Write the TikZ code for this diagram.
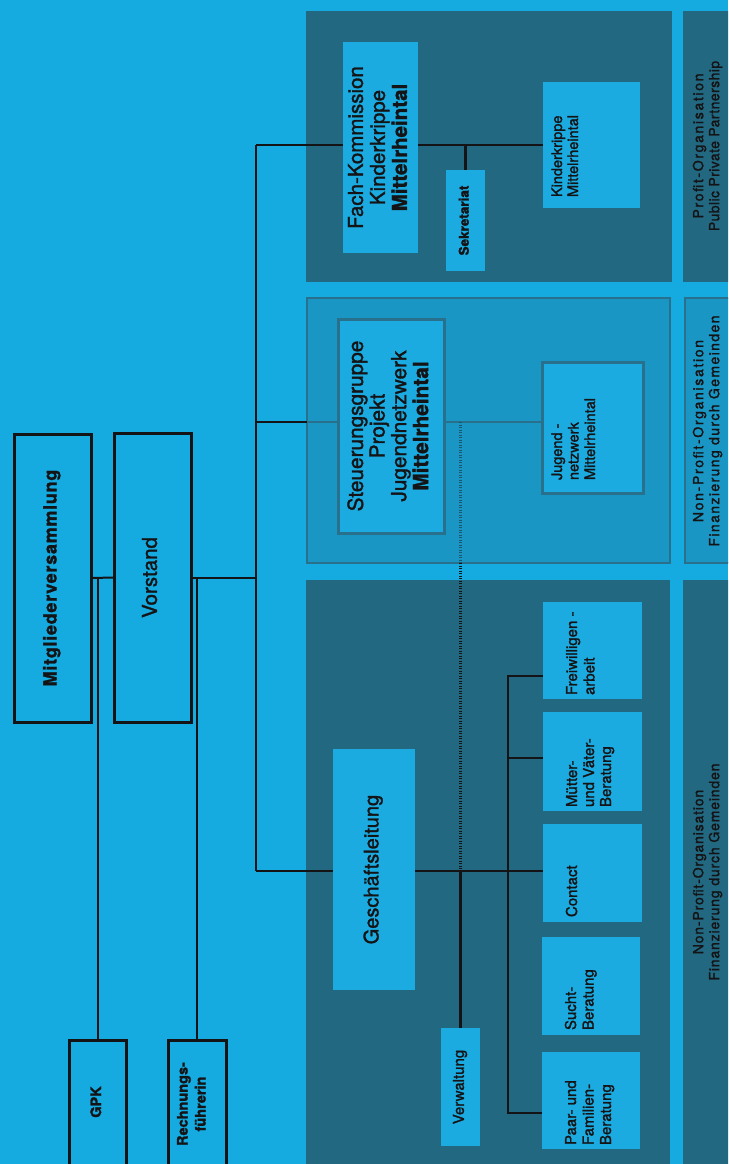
\documentclass[tikz,border=0pt]{standalone}
\usepackage{fontspec}
\setmainfont{TeX Gyre Heros}
\newfontfamily\medfont{TeX Gyre Heros}[FakeBold=1.5]
\usetikzlibrary{calc}
\definecolor{bg}{RGB}{21,170,224}
\definecolor{dk}{RGB}{34,104,128}
\definecolor{md}{RGB}{26,150,196}
\definecolor{mdb}{RGB}{40,112,140}
\definecolor{mdd}{RGB}{28,86,110}
\definecolor{lt}{RGB}{27,171,224}
\definecolor{ink}{RGB}{20,20,22}
% centred rotated lines
\newcommand{\rlines}[3]{\rotatebox{90}{\medfont\fontsize{#1}{#2}\selectfont\begin{tabular}{@{}c@{}}#3\end{tabular}}}
% corner-anchored rotated text: #1 box x-extent, #2 box y-extent, #3 baseline offset, #4 pad from bottom, #5 font, #6 text
\newcommand{\cornertext}[6]{\rotatebox{90}{\parbox[b][#1][t]{#2}{\medfont#5\raggedright\leftskip=#4\relax\rule{0pt}{#3}#6}}}
\tikzset{
  darkpanel/.style={anchor=north west, inner sep=0pt, outer sep=0pt, fill=dk},
  midpanel/.style={anchor=north west, inner sep=0pt, outer sep=0pt, fill=md, draw=mdb, line width=2.5pt},
  lbox/.style={anchor=north west, inner sep=0pt, outer sep=0pt, fill=lt, text=ink},
  mbox/.style={anchor=north west, inner sep=0pt, outer sep=0pt, fill=lt, draw=mdb, line width=3pt, text=ink},
  obox/.style={anchor=north west, inner sep=0pt, outer sep=0pt, draw=ink, line width=3pt, text=ink},
  ln/.style={draw=ink, line width=2pt},
  lnk/.style={draw=ink, line width=2.8pt},
  lnm/.style={draw=mdb, line width=2.5pt},
  dotm/.style={draw=mdd, line width=2.4pt, dash pattern=on 1.2pt off 1.3pt},
  dotk/.style={draw=ink, line width=2.2pt, dash pattern=on 1.2pt off 1.3pt},
  striptext/.style={text=ink, inner sep=0pt}
}
\begin{document}
\begin{tikzpicture}[x=1pt,y=-1pt]
\useasboundingbox (0,0) rectangle (728,1164);
\clip (0,0) rectangle (728,1164);
\fill[bg] (0,0) rectangle (728,1164);

% panels
\node[darkpanel, minimum width=366pt, minimum height=271pt] (p1) at (306,11) {};
\node[darkpanel, minimum width=60pt, minimum height=271pt] (s1) at (683,11) {};
\node[midpanel, minimum width=363pt, minimum height=265pt] (p2) at (307,298) {};
\node[midpanel, minimum width=60pt, minimum height=265pt] (s2) at (685,298) {};
\node[darkpanel, minimum width=364pt, minimum height=600pt] (p3) at (306,580) {};
\node[darkpanel, minimum width=60pt, minimum height=600pt] (s3) at (683,580) {};

% strip texts
\node[striptext] (s1t) at (708,146) {\rlines{14}{16}{\addfontfeature{LetterSpace=12}Profit-Organisation\\\addfontfeature{LetterSpace=3}Public Private Partnership}};
\node[striptext] (s2t) at (708,431) {\rlines{14}{16}{\addfontfeature{LetterSpace=12}Non-Profit-Organisation\\\addfontfeature{LetterSpace=10}Finanzierung durch Gemeinden}};
\node[striptext] (s3t) at (708,872) {\rlines{14}{16}{\addfontfeature{LetterSpace=6}Non-Profit-Organisation\\\addfontfeature{LetterSpace=6}Finanzierung durch Gemeinden}};

% left boxes
\node[obox, minimum width=77pt, minimum height=288pt] (mv) at (14,434) {\rlines{18}{20}{\bfseries\addfontfeature{LetterSpace=4}Mitgliederversammlung}};
\node[obox, minimum width=77pt, minimum height=289pt] (vs) at (114,433) {\rlines{20.5}{22}{Vorstand}};
\node[obox, minimum width=57pt, minimum height=140pt] (gpk) at (69,1040) {};
\node[obox, minimum width=58pt, minimum height=140pt] (rf) at (168,1040) {};
\node[text=ink, inner sep=0pt] (gpkt) at (97.5,1102) {\rlines{14.5}{18}{\bfseries GPK}};
\node[text=ink, inner sep=0pt] (rft) at (193,1104) {\rlines{14.5}{18}{\bfseries Rechnungs-\\\bfseries führerin}};

% panel 1
\node[lbox, minimum width=75pt, minimum height=211pt] (fk) at (343,42) {\rlines{20.5}{22}{Fach-Kommission\\Kinderkrippe\\\bfseries Mittelrheintal}};
\node[lbox, minimum width=39pt, minimum height=101pt] (sk) at (446,170) {\rlines{13.5}{16}{\bfseries Sekretariat}};
\node[lbox] (kk) at (543,82) {\cornertext{97pt}{126pt}{19pt}{11pt}{\fontsize{14.5}{16}\selectfont}{Kinderkrippe\\Mittelrheintal}};

% panel 2
\node[mbox, minimum width=106pt, minimum height=214pt] (sg) at (338,319) {\rlines{20.8}{21.5}{Steuerungsgruppe\\Projekt\\Jugendnetzwerk\\\bfseries Mittelrheintal}};
\node[mbox] (jn) at (542,362) {\cornertext{101pt}{131pt}{20pt}{13pt}{\fontsize{14.5}{16.5}\selectfont}{Jugend -\\netzwerk\\Mittelrheintal}};

% panel 3
\node[lbox, minimum width=82pt, minimum height=241pt] (gl) at (333,749) {\rlines{20}{22}{Geschäftsleitung}};
\node[lbox, minimum width=39pt, minimum height=118pt] (vw) at (441,1028) {\rlines{15}{17}{Verwaltung}};
\node[lbox] (fw) at (543,602) {\cornertext{99pt}{97pt}{34pt}{4pt}{\fontsize{15}{17.5}\selectfont}{Freiwilligen -\\arbeit}};
\node[lbox] (mu) at (543,712) {\cornertext{99pt}{99pt}{34pt}{4pt}{\fontsize{15}{17}\selectfont}{Mütter-\\und Väter-\\Beratung}};
\node[lbox] (ct) at (543,824) {\cornertext{99pt}{98pt}{34pt}{5pt}{\fontsize{15}{17.5}\selectfont}{Contact}};
\node[lbox] (su) at (542,937) {\cornertext{98pt}{98pt}{34pt}{5pt}{\fontsize{15}{17.5}\selectfont}{Sucht-\\Beratung}};
\node[lbox] (pf) at (542,1052) {\cornertext{98pt}{97pt}{34pt}{4pt}{\fontsize{15}{17.5}\selectfont}{Paar- und\\Familien-\\Beratung}};

% trunk and connectors
\coordinate (tt) at (256,145);
\coordinate (tb) at (256,871);
\coordinate (t2) at (256,422);
\draw[ln] (tt) -- (tb);
\draw[ln] (mv.east) -- (vs.west);
\draw[ln] (vs.east) -- (vs.east -| tt);
\draw[ln] (gpk.north) -- (gpk.north |- mv.east);
\draw[ln] (rf.north) -- (rf.north |- vs.east);
% panel 1
\draw[ln] (tt) -- (tt -| p1.west);
\draw[lnk] (tt -| p1.west) -- (tt -| fk.west);
\draw[lnk] (fk.east |- tt) -- (kk.west |- tt);
\draw[lnk] (sk.north) -- (sk.north |- tt);
% panel 2
\draw[ln] (t2) -- (t2 -| p2.west);
\draw[lnm] (t2 -| p2.west) -- (t2 -| sg.west);
\draw[lnm] (sg.east |- t2) -- (jn.west |- t2);
\draw[dotm] (vw.north |- t2) -- (vw.north |- p2.south);
\draw[dotk] (vw.north |- p2.south) -- (vw.north |- tb);
% panel 3
\draw[ln] (tb) -- (tb -| gl.west);
\draw[lnk] (gl.east |- tb) -- (ct.west |- tb);
\draw[lnk] (vw.north |- tb) -- (vw.north);
\coordinate (bt) at (508,676);
\coordinate (bm) at (508,758);
\coordinate (bb) at (508,1113);
\draw[lnk] (fw.west |- bt) -- (bt) -- (bb) -- (pf.west |- bb);
\draw[lnk] (bm) -- (mu.west |- bm);
\end{tikzpicture}
\end{document}
